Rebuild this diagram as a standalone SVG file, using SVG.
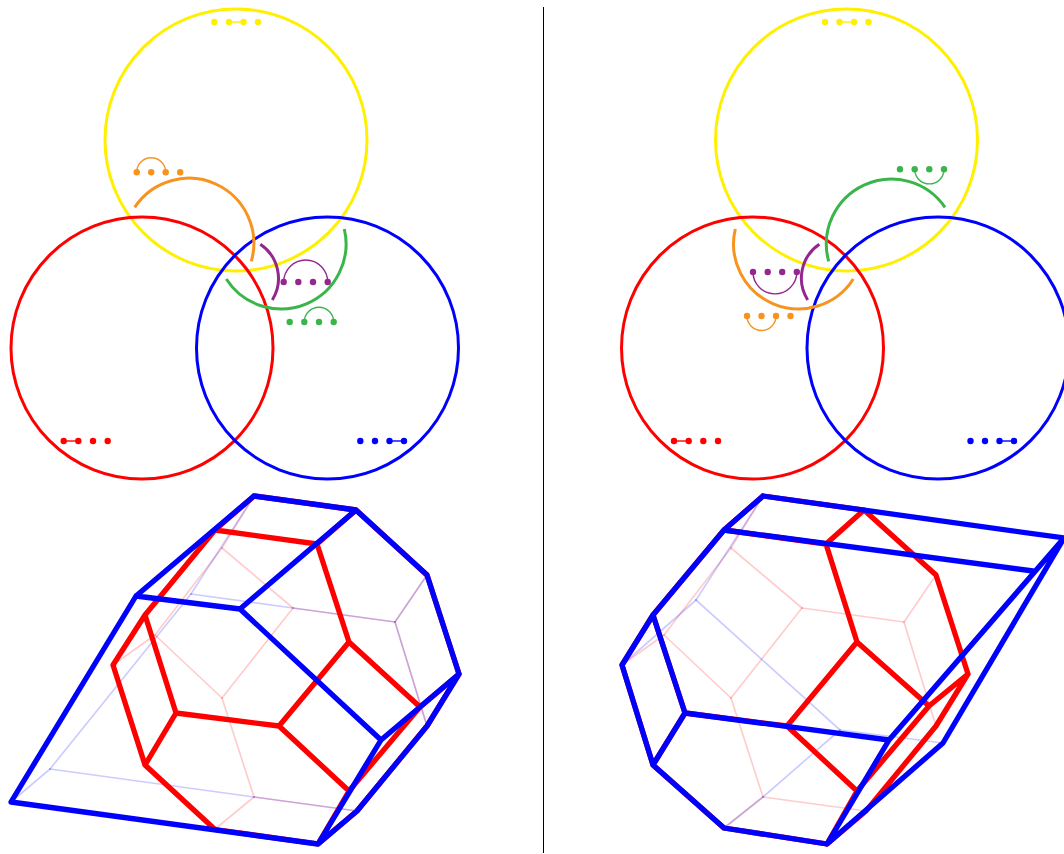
<svg xmlns="http://www.w3.org/2000/svg" width="1064" height="854" viewBox="0 0 1064 854">
<style>
.c{fill:none;stroke-width:3}
.a{fill:none;stroke-width:3}
.s{fill:none;stroke-width:1.4}
.R{stroke:#ff0000}.B{stroke:#0000ff}.Y{stroke:#fff000}.O{stroke:#f7931e}.G{stroke:#39b54a}.P{stroke:#93278f}
.fR{fill:#ff0000}.fB{fill:#0000ff}.fY{fill:#fff000}.fO{fill:#f7931e}.fG{fill:#39b54a}.fP{fill:#93278f}
.t{fill:none;stroke-width:5.3;stroke-linejoin:round;stroke-linecap:round}
.l{fill:none;stroke-width:1.7;stroke-opacity:.2;stroke-linecap:round}
circle{r:3.2px}
</style>
<rect width="1064" height="854" fill="#ffffff"/>
<line id="divider" x1="543.5" y1="7" x2="543.5" y2="853" stroke="#000000" stroke-width="1"/>

<g id="venn-left">
<circle class="c Y" cx="236" cy="140" r="131" style="r:131px"/>
<circle class="c R" cx="142" cy="348" r="131" style="r:131px"/>
<circle class="c B" cx="327.5" cy="348" r="131" style="r:131px"/>
<path class="a O" d="M134.7 207.3A65 65 0 0 1 251.3 261.3"/>
<path class="a G" d="M344.3 229A65 65 0 0 1 226.3 279"/>
<path class="a P" d="M260.3 244.3A41 41 0 0 1 272.3 300"/>
</g>
<g id="dots-left">
<g class="fY"><circle cx="214.3" cy="22" r="3"/><circle cx="229" cy="22" r="3"/><circle cx="243.5" cy="22" r="3"/><circle cx="258" cy="22" r="3"/></g><path class="s Y" d="M229 22H243.5"/>
<g class="fO"><circle cx="136.7" cy="172.3" r="3"/><circle cx="151.2" cy="172.3" r="3"/><circle cx="165.7" cy="172.3" r="3"/><circle cx="180.2" cy="172.3" r="3"/></g><path class="s O" d="M136.7 172.3A14.5 14.5 0 0 1 165.7 172.3"/>
<g class="fP"><circle cx="283.7" cy="282" r="3"/><circle cx="298.3" cy="282" r="3"/><circle cx="313" cy="282" r="3"/><circle cx="327.7" cy="282" r="3"/></g><path class="s P" d="M283.7 282A22 22 0 0 1 327.7 282"/>
<g class="fG"><circle cx="289.7" cy="322" r="3"/><circle cx="304.3" cy="322" r="3"/><circle cx="319" cy="322" r="3"/><circle cx="333.7" cy="322" r="3"/></g><path class="s G" d="M304.3 322A14.7 14.7 0 0 1 333.7 322"/>
<g class="fR"><circle cx="63.7" cy="441" r="3"/><circle cx="78.3" cy="441" r="3"/><circle cx="93" cy="441" r="3"/><circle cx="107.7" cy="441" r="3"/></g><path class="s R" d="M63.7 441H78.3"/>
<g class="fB"><circle cx="360.3" cy="441" r="3"/><circle cx="375" cy="441" r="3"/><circle cx="389.5" cy="441" r="3"/><circle cx="404" cy="441" r="3"/></g><path class="s B" d="M389.5 441H404"/>
</g>

<g id="venn-right">
<circle class="c Y" cx="846.5" cy="140" r="131" style="r:131px"/>
<circle class="c R" cx="752.5" cy="348" r="131" style="r:131px"/>
<circle class="c B" cx="938" cy="348" r="131" style="r:131px"/>
<path class="a G" d="M945 207.3A65 65 0 0 0 828.7 261.3"/>
<path class="a O" d="M735.3 229A65 65 0 0 0 853.3 279"/>
<path class="a P" d="M819.3 244.3A41 41 0 0 0 807.7 300"/>
</g>
<g id="dots-right">
<g class="fY"><circle cx="825" cy="22" r="3"/><circle cx="839.5" cy="22" r="3"/><circle cx="854" cy="22" r="3"/><circle cx="868.5" cy="22" r="3"/></g><path class="s Y" d="M839.5 22H854"/>
<g class="fG"><circle cx="900" cy="169.3" r="3"/><circle cx="914.7" cy="169.3" r="3"/><circle cx="929.3" cy="169.3" r="3"/><circle cx="944" cy="169.3" r="3"/></g><path class="s G" d="M914.7 169.3A14.65 14.65 0 0 0 944 169.3"/>
<g class="fP"><circle cx="753" cy="272" r="3"/><circle cx="767.7" cy="272" r="3"/><circle cx="782.2" cy="272" r="3"/><circle cx="796.8" cy="272" r="3"/></g><path class="s P" d="M753 272A21.9 21.9 0 0 0 796.8 272"/>
<g class="fO"><circle cx="747" cy="316" r="3"/><circle cx="761.5" cy="316" r="3"/><circle cx="776" cy="316" r="3"/><circle cx="790.5" cy="316" r="3"/></g><path class="s O" d="M747 316A14.5 14.5 0 0 0 776 316"/>
<g class="fR"><circle cx="674" cy="441" r="3"/><circle cx="688.7" cy="441" r="3"/><circle cx="703.3" cy="441" r="3"/><circle cx="718" cy="441" r="3"/></g><path class="s R" d="M674 441H688.7"/>
<g class="fB"><circle cx="970.5" cy="441" r="3"/><circle cx="985" cy="441" r="3"/><circle cx="999.5" cy="441" r="3"/><circle cx="1014" cy="441" r="3"/></g><path class="s B" d="M999.5 441H1014"/>
</g>

<g id="polyhedron-left">
<g class="l R">
<path d="M222 548L254 496"/><path d="M222 548L293 608"/><path d="M293 608L222 698"/><path d="M222 698L155 635"/><path d="M155 635L222 548"/><path d="M155 635L113 665"/><path d="M222 698L254 797"/><path d="M254 797L215 829"/><path d="M254 797L357 811"/><path d="M293 608L395 622"/><path d="M395 622L427 575"/><path d="M395 622L427 726"/>
</g>
<g class="l B">
<path d="M11 802L50 769"/><path d="M50 769L191 594"/><path d="M191 594L254 496"/><path d="M191 594L293 608"/><path d="M293 608L395 622"/><path d="M50 769L254 797"/><path d="M254 797L357 811"/><path d="M395 622L427 575"/><path d="M395 622L427 726"/>
</g>
<path class="t R" d="M145 615L215 530L254 496L356 510L427 575L459 674L427 726L357 811L318 844L215 829.5L145 765L113 665L145 615L176 713L145 765M215 530L317 544L349 642L279 726L176 713M356 510L317 544M349 642L420 707L459 674M279 726L349 791L420 707M349 791L318 844"/>
<path class="t B" d="M254 496L356 510L427 575L459 674L427 726L357 811L318 844L11 802L136 596L254 496M136 596L240 609L356 510M240 609L381 740L459 674M381 740L318 844"/>
</g>

<g id="polyhedron-right">
<g class="l R">
<path d="M731 548L763 496"/><path d="M731 548L802 608"/><path d="M802 608L731 698"/><path d="M731 698L664 635"/><path d="M664 635L731 548"/><path d="M664 635L622 665"/><path d="M731 698L763 797"/><path d="M763 797L724 828"/><path d="M763 797L866 811"/><path d="M802 608L904 622"/><path d="M904 622L936 575"/><path d="M904 622L936 726"/>
</g>
<g class="l B">
<path d="M763 496L696 600"/><path d="M696 600L622 665"/><path d="M696 600L840 730"/><path d="M840 730L763 797"/><path d="M763 797L724 828"/><path d="M840 730L943 743"/>
</g>
<path class="t R" d="M763 496L724 530L653 615L622 665L653 765L724 828L827 844L866 811L936 726L968 674L936 575L864 510L763 496M653 615L685 713L653 765M864 510L826 544L724 530M826 544L857 642L787 726L685 713M857 642L929 706L968 674M787 726L857 791L929 706M857 791L827 844"/>
<path class="t B" d="M763 496L1064 538L943 743L827 844L724 828L653 765L622 665L653 615L724 530L763 496M724 530L1033 571M653 615L685 713L653 765M685 713L889 740L827 844M889 740L1064 538"/>
</g>
</svg>
